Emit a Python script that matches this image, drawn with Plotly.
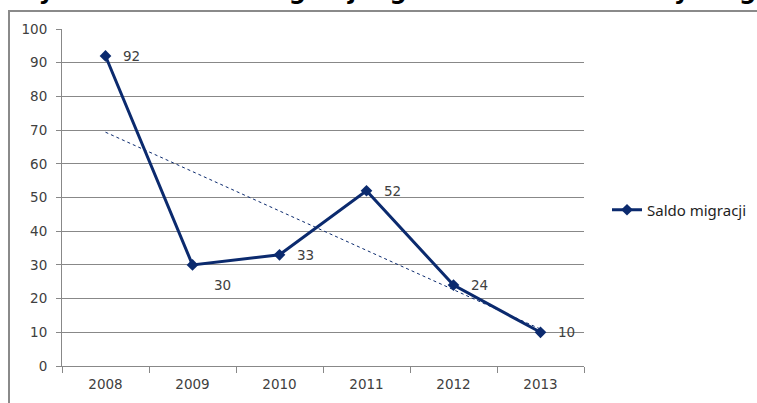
import numpy as np
import plotly.graph_objects as go

years = ["2008", "2009", "2010", "2011", "2012", "2013"]
saldo = [92, 30, 33, 52, 24, 10]
# label offsets (px) like in the original chart: most right of the point, 2009 below-right
label_dx = [15, 19, 15, 15, 15, 15]
label_dy = [0, -20, 0, 0, 0, 0]

NAVY = "#0b2a6e"
GRID = "#888888"
TXT = "#404040"

# linear trendline like the spreadsheet one
idx = np.arange(len(saldo))
a, b = np.polyfit(idx, saldo, 1)
trend = a * idx + b

fig = go.Figure()

fig.add_trace(go.Scatter(
    x=years, y=trend,
    mode="lines",
    line=dict(color=NAVY, width=1, dash="3px,3px"),
    showlegend=False,
    hoverinfo="skip",
))

fig.add_trace(go.Scatter(
    x=years, y=saldo,
    name="Saldo migracji",
    mode="lines+markers",
    line=dict(color=NAVY, width=3),
    marker=dict(symbol="diamond", size=9, color=NAVY),
))

annots = []
for i, (v, dx, dy) in enumerate(zip(saldo, label_dx, label_dy)):
    # category axis: annotation x is the category's serial number
    annots.append(dict(
        x=i, y=v, text=str(v), showarrow=False,
        xanchor="left", yanchor="middle", xshift=dx, yshift=dy,
        font=dict(family="DejaVu Sans", size=13.5, color=TXT),
    ))

annots.append(dict(
    text="<b>Wykres 18. Saldo migracji ogółem w Gminie Nowy Targ</b>",
    xref="paper", yref="paper",
    x=(10 - 62) / 522, y=1 + (29 - 7) / 337,
    xanchor="left", yanchor="bottom",
    showarrow=False,
    font=dict(family="DejaVu Sans", size=24, color="black"),
))

fig.update_layout(
    width=757, height=403,
    margin=dict(l=62, r=173, t=29, b=37),
    paper_bgcolor="white",
    plot_bgcolor="white",
    font=dict(family="DejaVu Sans", size=13.5, color=TXT),
    legend=dict(
        xref="container", yref="container",
        x=607 / 757, y=1 - 210 / 403, xanchor="left", yanchor="middle",
        font=dict(family="Noto Sans", size=15, color="#1e1e1e"),
        bgcolor="rgba(0,0,0,0)",
    ),
    xaxis=dict(
        type="category",
        range=[-0.5, 5.5],
        showgrid=False,
        showline=True, linecolor=GRID, linewidth=1,
        ticks="outside", tickson="boundaries", ticklen=6, tickcolor=GRID,
        ticklabelstandoff=6,
        tickfont=dict(family="DejaVu Sans", size=13.5, color=TXT),
    ),
    yaxis=dict(
        range=[0, 100], dtick=10,
        showgrid=True, gridcolor=GRID, gridwidth=1,
        showline=True, linecolor=GRID, linewidth=1,
        ticks="outside", ticklen=5, tickcolor=GRID,
        ticklabelstandoff=6,
        zeroline=False,
        tickfont=dict(family="DejaVu Sans", size=13.5, color=TXT),
    ),
    annotations=annots,
    shapes=[dict(
        type="rect", xref="paper", yref="paper",
        x0=(9 - 62) / 522, x1=1.5,
        y0=-0.3, y1=1 + (29 - 11) / 337,
        line=dict(color="#8a8a8a", width=2),
        layer="below",
    )],
)

fig.write_html("out.html", config={"displayModeBar": False},
               post_script="document.body.style.margin='0px';")
